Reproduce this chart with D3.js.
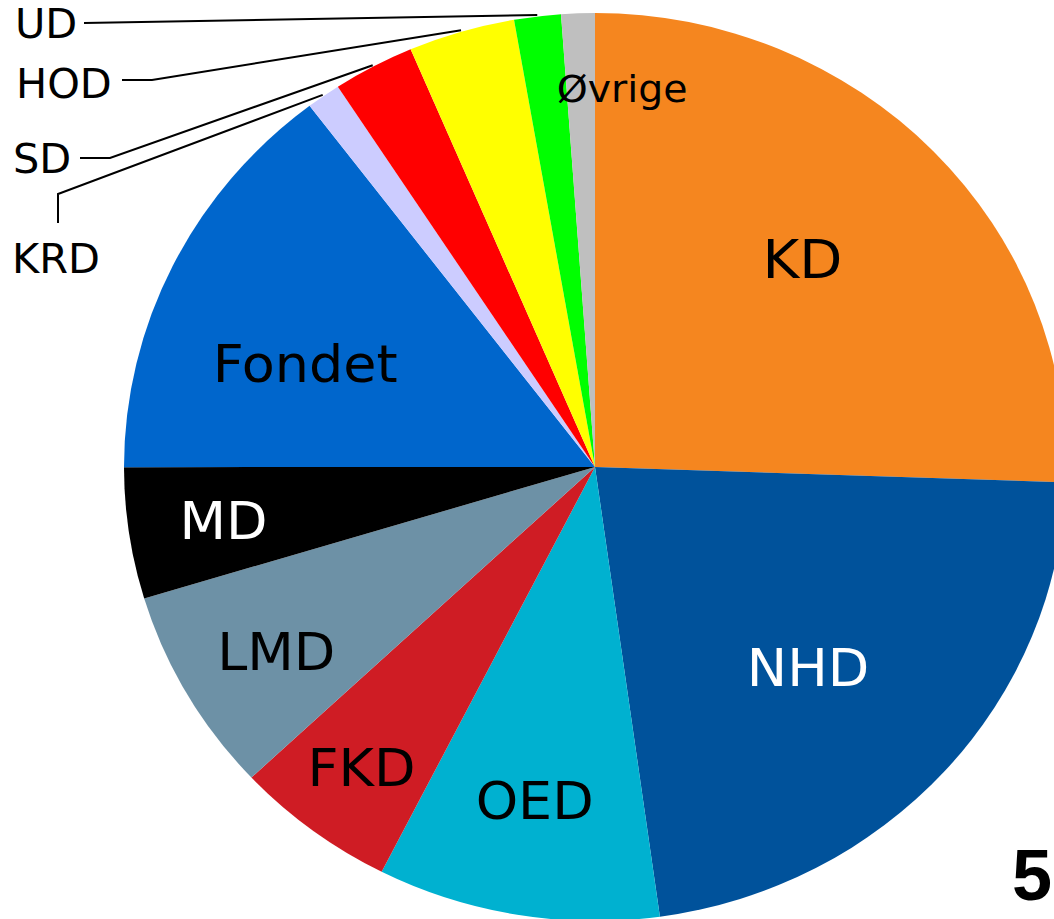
<!DOCTYPE html>
<html>
<head>
<meta charset="utf-8">
<script src="https://cdn.jsdelivr.net/npm/d3@7"></script>
<style>
  html, body { margin: 0; padding: 0; background: #ffffff; }
  svg { display: block; }
</style>
</head>
<body>
<script>
// ---- data ----
const categories = ["KD", "NHD", "OED", "FKD", "LMD", "MD", "Fondet", "KRD", "SD", "HOD", "UD", "Øvrige"];
const values = [25.53, 22.26, 9.68, 5.53, 7.31, 4.67, 14.64, 1.17, 2.79, 3.65, 1.60, 1.15];
const colors = ["#F5861F", "#00529B", "#00B1D0", "#CF1C24", "#6D91A6", "#000000", "#0066CC", "#CCCCFF", "#FF0000", "#FFFF00", "#00FF00", "#BFBFBF"];
const pageNumber = "5";

// ---- layout ----
const W = 1054, H = 919;
const cx = 595, cy = 467, ry = 454, rx = 471;
const sx = rx / ry;

// inside labels: radius (px, unstretched pie) and angle tweak (deg)
const insideLabels = {
  "KD":     { r: 289, da: -2.2, fill: "#000", size: 54 },
  "NHD":    { r: 287, da: 2.3,  fill: "#fff", size: 52 },
  "OED":    { r: 338, da: 0.4,  fill: "#000", size: 52 },
  "FKD":    { r: 375, da: 0,    fill: "#000", size: 52 },
  "LMD":    { r: 358, da: -0.9, fill: "#000", size: 52 },
  "MD":     { r: 362, da: 0,    fill: "#fff", size: 52 },
  "Fondet": { r: 298, da: -6,   fill: "#000", size: 52 },
  "Øvrige": { r: 380, da: 6,    fill: "#000", size: 38 }
};
// outside labels with leader lines
const outsideLabels = {
  "UD":  { text: [15, 38],  pts: [[84, 23]] },
  "HOD": { text: [16, 98],  pts: [[122, 80], [152, 80]] },
  "SD":  { text: [13, 173], pts: [[80, 158], [110, 158]] },
  "KRD": { text: [12, 273], pts: [[58, 223], [58, 194]] }
};

const data = categories.map((c, i) => ({ name: c, v: values[i], color: colors[i] }));

const svg = d3.select("body").append("svg")
  .attr("width", W).attr("height", H);

const pie = d3.pie().sort(null).value(d => d.v);
const arcs = pie(data);
const arc = d3.arc().innerRadius(0).outerRadius(ry);

const g = svg.append("g")
  .attr("transform", `translate(${cx},${cy}) scale(${sx},1)`);

g.selectAll("path").data(arcs).join("path")
  .attr("d", arc)
  .attr("fill", d => d.data.color);

function toScreen(angle, r) {
  return [cx + r * Math.sin(angle) * sx, cy - r * Math.cos(angle)];
}
const deg = Math.PI / 180;
const FONT = "DejaVu Sans, Verdana, sans-serif";

// inside labels
arcs.forEach(a => {
  const L = insideLabels[a.data.name];
  if (!L) return;
  const mid = (a.startAngle + a.endAngle) / 2 + L.da * deg;
  const [x, y] = toScreen(mid, L.r);
  svg.append("text")
    .attr("transform", `translate(${x},${y}) scale(${sx},1)`)
    .attr("dy", "0.36em")
    .attr("text-anchor", "middle")
    .attr("font-family", FONT)
    .attr("font-size", L.size)
    .attr("fill", L.fill)
    .text(a.data.name);
});

// outside labels
arcs.forEach(a => {
  const L = outsideLabels[a.data.name];
  if (!L) return;
  const mid = (a.startAngle + a.endAngle) / 2;
  const end = toScreen(mid, ry * 1.003);
  const pts = L.pts.concat([end]);
  svg.append("path")
    .attr("d", d3.line()(pts))
    .attr("fill", "none")
    .attr("stroke", "#000")
    .attr("stroke-width", 2);
  svg.append("text")
    .attr("transform", `translate(${L.text[0]},${L.text[1]}) scale(${sx},1)`)
    .attr("font-family", FONT)
    .attr("font-size", 40)
    .attr("fill", "#000")
    .text(a.data.name);
});

// page number
svg.append("text")
  .attr("x", 1052).attr("y", 900)
  .attr("text-anchor", "end")
  .attr("font-family", "Liberation Sans, Arial, sans-serif")
  .attr("font-weight", "bold")
  .attr("font-size", 72)
  .attr("fill", "#000")
  .text(pageNumber);
</script>
</body>
</html>
